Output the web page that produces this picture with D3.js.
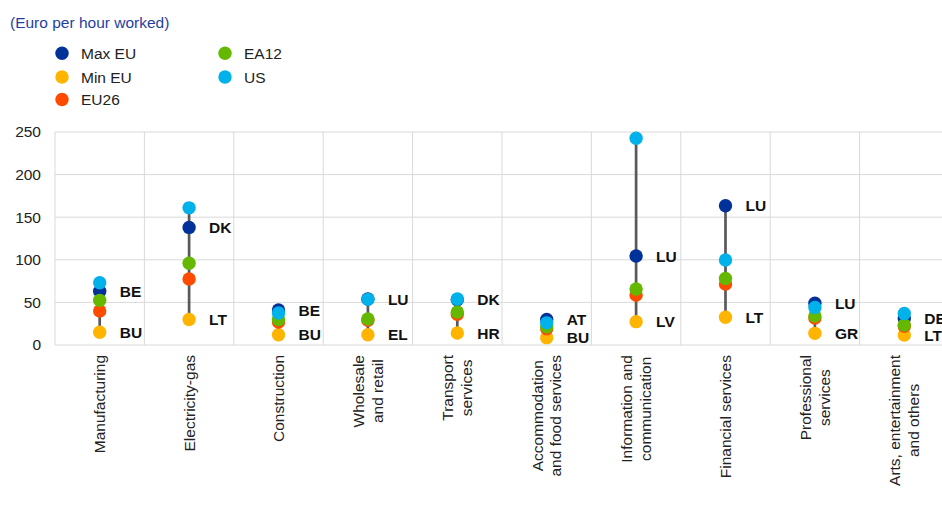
<!DOCTYPE html>
<html><head><meta charset="utf-8">
<script src="https://cdn.jsdelivr.net/npm/d3@7"></script>
<style>body{margin:0;background:#fff}svg{display:block;font-family:Arial,"Liberation Sans",sans-serif}</style>
</head><body><svg id="c" width="942" height="506"></svg>
<script>
const categories = ["Manufacturing","Electricity-gas","Construction","Wholesale\nand retail","Transport\nservices","Accommodation\nand food services","Information and\ncommunication","Financial services","Professional\nservices","Arts, entertainment\nand others"];
const maxEU = [63, 138, 41, 54, 53, 30, 104.5, 163.5, 49, 31];
const minEU = [15, 30, 12, 12, 14, 8.6, 27.4, 32.5, 13.7, 11.7];
const eu26  = [40, 77.5, 27, 29, 36, 19, 58.7, 71.6, 31.7, 22];
const ea12  = [52.4, 96, 30, 30.5, 38.7, 21.5, 65.7, 78, 34, 23.5];
const us    = [73, 161, 37.5, 53.6, 54, 26, 242.6, 99.8, 44, 37];
const maxCode = ["BE","DK","BE","LU","DK","AT","LU","LU","LU","DE"];
const minCode = ["BU","LT","BU","EL","HR","BU","LV","LT","GR","LT"];
const yTicks = [0, 50, 100, 150, 200, 250];
const seriesNames = ["Max EU","Min EU","EU26","EA12","US"];
const seriesColors = ["#003299","#FFB400","#FF4B00","#65B800","#00B1EA"];
const seriesData = [maxEU, minEU, eu26, ea12, us];

const svg = d3.select("#c");
const fs = 15.5;
const x = d3.scaleBand().domain(d3.range(categories.length)).range([55, 949]).padding(0);
const y = d3.scaleLinear().domain([0, 250]).range([345, 132]);

// title
svg.append("text").attr("x", 10).attr("y", 28).attr("font-size", fs).attr("fill", "#1f3f9f").text("(Euro per hour worked)");

// legend
const legendPos = [[62,53.3],[62,77],[62,99.5],[225,53.3],[225,77]];
seriesNames.forEach((n,i)=>{
  const [lx,ly] = legendPos[i];
  svg.append("circle").attr("cx", lx).attr("cy", ly).attr("r", 6.7).attr("fill", seriesColors[i]);
  svg.append("text").attr("x", lx+19).attr("y", ly).attr("dy","0.36em").attr("font-size", fs).attr("fill","#222").text(n);
});

// grid
const grid = svg.append("g").attr("stroke", "#d9d9d9").attr("stroke-width", 1);
yTicks.forEach(t=>{
  grid.append("line").attr("x1", 55).attr("x2", 949).attr("y1", y(t)).attr("y2", y(t));
});
d3.range(categories.length + 1).forEach(i=>{
  const xv = i < categories.length ? x(i) : x(categories.length-1) + x.bandwidth();
  grid.append("line").attr("x1", xv).attr("x2", xv).attr("y1", y(250)).attr("y2", y(0));
});

// y axis
const yAxis = d3.axisLeft(y).tickValues(yTicks).tickSize(0).tickPadding(14);
const ya = svg.append("g").attr("transform", "translate(55,0)").call(yAxis);
ya.select(".domain").remove();
ya.selectAll("text").attr("font-size", fs).attr("fill", "#222").attr("font-family", "Arial,'Liberation Sans',sans-serif");

// x labels
categories.forEach((c,i)=>{
  const lines = c.split("\n");
  const cx = x(i) + x.bandwidth()/2;
  const g = svg.append("g");
  const texts = lines.map((l,k)=> g.append("text").attr("font-size", fs).attr("fill","#222").attr("text-anchor","middle").text(l));
  const maxW = d3.max(texts, t=>t.node().getComputedTextLength());
  const lh = 18.5;
  const n = lines.length;
  texts.forEach((t,k)=>{
    const off = (k - (n-1)/2) * lh;
    const px = cx + off + 0.35*fs;
    const py = 355 + maxW/2;
    t.attr("transform", `translate(${px},${py}) rotate(-90)`);
  });
});

// range lines
categories.forEach((c,i)=>{
  const vals = seriesData.map(s=>s[i]);
  const cx = x(i) + x.bandwidth()/2;
  svg.append("line").attr("x1", cx).attr("x2", cx).attr("y1", y(d3.min(vals))).attr("y2", y(d3.max(vals)))
    .attr("stroke", "#595959").attr("stroke-width", 2.7);
});

// dots
seriesData.forEach((s,si)=>{
  svg.append("g").selectAll("circle").data(s).join("circle")
    .attr("cx", (d,i)=> x(i) + x.bandwidth()/2).attr("cy", d=>y(d)).attr("r", 6.7).attr("fill", seriesColors[si]);
});

// country labels
categories.forEach((c,i)=>{
  const cx = x(i) + x.bandwidth()/2;
  svg.append("text").attr("x", cx+20).attr("y", y(maxEU[i])).attr("dy","0.36em").attr("font-size", fs).attr("font-weight","bold").attr("fill","#111").text(maxCode[i]);
  svg.append("text").attr("x", cx+20).attr("y", y(minEU[i])).attr("dy","0.36em").attr("font-size", fs).attr("font-weight","bold").attr("fill","#111").text(minCode[i]);
});
</script></body></html>
